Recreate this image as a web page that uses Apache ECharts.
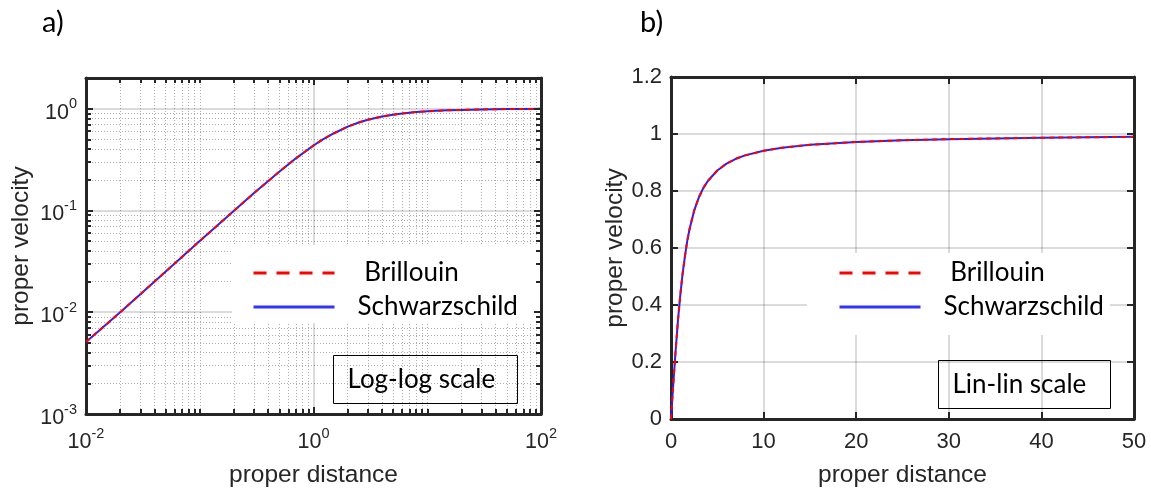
<!DOCTYPE html>
<html>
<head>
<meta charset="utf-8">
<script src="https://cdn.jsdelivr.net/npm/echarts@6/dist/echarts.min.js"></script>
<style>
html,body{margin:0;padding:0;background:#fff;}
#chart{width:1151px;height:493px;}
</style>
</head>
<body>
<div id="chart"></div>
<script>
// ---- data ----
const seriesNames = ['Brillouin', 'Schwarzschild'];

// panel a) log-log
const logDistance = [0.01, 0.02, 0.05, 0.1, 0.2, 0.3, 0.5, 0.7, 1, 1.2, 1.5, 2, 2.5, 3, 4, 5, 6, 7, 8, 10, 12, 15, 20, 30, 50, 70, 100];
const logVelocity = [0.0051, 0.01, 0.025, 0.05, 0.0995, 0.148, 0.24, 0.325, 0.434, 0.497, 0.57, 0.666, 0.731, 0.777, 0.836, 0.872, 0.896, 0.913, 0.925, 0.941, 0.952, 0.962, 0.972, 0.982, 0.990, 0.993, 0.995];

// panel b) lin-lin
const linDistance = [0, 0.1, 0.25, 0.5, 0.75, 1, 1.25, 1.5, 1.75, 2, 2.5, 3, 3.5, 4, 5, 6, 7, 8, 10, 12, 15, 20, 25, 30, 40, 50];
const linVelocity = [0, 0.05, 0.125, 0.24, 0.345, 0.434, 0.509, 0.57, 0.624, 0.666, 0.731, 0.777, 0.811, 0.836, 0.872, 0.896, 0.913, 0.925, 0.941, 0.952, 0.962, 0.972, 0.978, 0.982, 0.987, 0.990];

// log-axis minor grid / tick positions
const logXMinor = [0.02,0.03,0.04,0.05,0.06,0.07,0.08,0.09,0.1,0.2,0.3,0.4,0.5,0.6,0.7,0.8,0.9,2,3,4,5,6,7,8,9,10,20,30,40,50,60,70,80,90];
const logYMinor = [0.002,0.003,0.004,0.005,0.006,0.007,0.008,0.009,0.02,0.03,0.04,0.05,0.06,0.07,0.08,0.09,0.2,0.3,0.4,0.5,0.6,0.7,0.8,0.9];

const panelLabels = ['a)', 'b)'];
const noteLabels = ['Log-log scale', 'Lin-lin scale'];
const axisTitles = {x: 'proper distance', y: 'proper velocity'};

// ---- styling ----
const AX = '#262626';
const numFont = 'Liberation Sans';
const txtFont = 'Lato';
const gridGray = 'rgba(0,0,0,0.14)';
const minorGrid = {show: true, lineStyle: {color: 'rgba(0,0,0,0.32)', width: 1, type: [1, 2]}};

function zip(a, b) { return a.map((v, i) => [v, b[i]]); }

function powLabel(v) {
  const l = Math.log10(v);
  const e = Math.round(l);
  if (Math.abs(l - e) > 1e-6) return '';
  return '10{s|' + e + '}';
}
const powRich = {s: {fontSize: 14.5, lineHeight: 14, verticalAlign: 'top', fontFamily: numFont, color: AX}};

const axisLineStyle = {show: true, onZero: false, lineStyle: {color: AX, width: 3}};
const noLine = {show: false, onZero: false};
const titleStyle = {fontFamily: numFont, fontSize: 24.5, color: AX};

function logAxis(opts) {
  return Object.assign({
    type: 'log', logBase: 10, gridIndex: 0,
    axisLine: axisLineStyle,
    axisTick: {show: true, inside: true, length: 7, lineStyle: {color: AX, width: 2}},
    axisLabel: {show: false},
    splitLine: {show: false},
    minorTick: {show: false},
    z: 1
  }, opts);
}
function minorTick(vals) { return {show: true, inside: true, length: 5, customValues: vals, lineStyle: {color: AX, width: 2}}; }

const xA = [
  logAxis({position: 'bottom', min: 0.01, max: 100, interval: 2, z: 2,
    axisLabel: {show: true, formatter: powLabel, rich: powRich, fontFamily: numFont, fontSize: 21.5, color: AX, lineHeight: 32, margin: 12},
    splitLine: {show: true, lineStyle: {color: gridGray, width: 2}},
    name: axisTitles.x, nameLocation: 'middle', nameGap: 49, nameTextStyle: titleStyle}),
  logAxis({position: 'bottom', min: 0.01, max: 100, axisLine: noLine,
    axisTick: minorTick(logXMinor), splitLine: minorGrid}),
  logAxis({position: 'top', min: 0.01, max: 100, interval: 2, z: 10}),
  logAxis({position: 'top', min: 0.01, max: 100, axisLine: noLine, z: 10,
    axisTick: minorTick(logXMinor)}),
  // panel b
  {type: 'value', gridIndex: 1, position: 'bottom', min: 0, max: 50, interval: 10,
    axisLine: axisLineStyle,
    axisTick: {show: true, inside: true, length: 7, lineStyle: {color: AX, width: 2}},
    axisLabel: {fontFamily: numFont, fontSize: 22, color: AX, margin: 12},
    splitLine: {show: true, lineStyle: {color: gridGray, width: 2}},
    name: axisTitles.x, nameLocation: 'middle', nameGap: 44, nameTextStyle: titleStyle},
  {type: 'value', gridIndex: 1, position: 'top', min: 0, max: 50, interval: 10, z: 10,
    axisLine: axisLineStyle,
    axisTick: {show: true, inside: true, length: 7, lineStyle: {color: AX, width: 2}},
    axisLabel: {show: false}, splitLine: {show: false}}
];

const yA = [
  logAxis({position: 'left', min: 0.001, max: 2, z: 2,
    axisLabel: {show: true, formatter: powLabel, rich: powRich, fontFamily: numFont, fontSize: 21.5, color: AX, lineHeight: 32, margin: 9, showMaxLabel: false, padding: [8, 0, 0, 0]},
    splitLine: {show: true, lineStyle: {color: gridGray, width: 2}},
    name: axisTitles.y, nameLocation: 'middle', nameGap: 52, nameRotate: 90, nameTextStyle: titleStyle}),
  logAxis({position: 'left', min: 0.001, max: 2, axisLine: noLine,
    axisTick: minorTick(logYMinor), splitLine: minorGrid}),
  logAxis({position: 'right', min: 0.001, max: 2, z: 10}),
  logAxis({position: 'right', min: 0.001, max: 2, axisLine: noLine, z: 10,
    axisTick: minorTick(logYMinor)}),
  // panel b
  {type: 'value', gridIndex: 1, position: 'left', min: 0, max: 1.2, interval: 0.2,
    axisLine: axisLineStyle,
    axisTick: {show: true, inside: true, length: 7, lineStyle: {color: AX, width: 2}},
    axisLabel: {fontFamily: numFont, fontSize: 22, color: AX, margin: 9},
    splitLine: {show: true, lineStyle: {color: gridGray, width: 2}},
    name: axisTitles.y, nameLocation: 'middle', nameGap: 42, nameRotate: 90, nameTextStyle: titleStyle},
  {type: 'value', gridIndex: 1, position: 'right', min: 0, max: 1.2, interval: 0.2, z: 10,
    axisLine: axisLineStyle,
    axisTick: {show: true, inside: true, length: 7, lineStyle: {color: AX, width: 2}},
    axisLabel: {show: false}, splitLine: {show: false}}
];

function curveSeries(name, data, xi, yi) {
  const red = name === 'Brillouin';
  return {
    type: 'line', name: name, data: data, xAxisIndex: xi, yAxisIndex: yi,
    showSymbol: false, symbol: 'none', smooth: false,
    z: red ? 3 : 2,
    lineStyle: red ? {color: '#ff0000', width: 2, type: [5, 4]} : {color: '#2222ff', width: 2},
    itemStyle: {color: red ? '#ff0000' : '#2222ff'},
    emphasis: {disabled: true}
  };
}

const logData = zip(logDistance, logVelocity);
const linData = zip(linDistance, linVelocity);

const series = [
  curveSeries(seriesNames[1], logData, 0, 0),
  curveSeries(seriesNames[0], logData, 0, 0),
  curveSeries(seriesNames[1], linData, 4, 4),
  curveSeries(seriesNames[0], linData, 4, 4)
];

const legendData = [
  {name: seriesNames[0], lineStyle: {width: 3, type: [13, 10], color: '#ff0000'}, itemStyle: {opacity: 0}},
  {name: seriesNames[1], lineStyle: {width: 3, color: '#3333ff'}, itemStyle: {opacity: 0}}
];
function legendCfg(left, top, padding) {
  return {
    left: left, top: top, orient: 'vertical', padding: padding,
    backgroundColor: '#ffffff', borderWidth: 0, z: 5,
    itemWidth: 81, itemHeight: 14, itemGap: 8, selectedMode: false,
    data: legendData,
    itemStyle: {opacity: 0},
    formatter: n => n === 'Brillouin' ? ' ' + n : n,
    textStyle: {fontFamily: txtFont, fontSize: 26, lineHeight: 26, color: '#000', padding: [0, 0, 0, 18]}
  };
}

function noteBox(x, y, w, h, text) {
  return {type: 'group', left: x, top: y, z: 20, children: [
    {type: 'rect', shape: {x: 0, y: 0, width: w, height: h}, style: {fill: '#fff', stroke: '#000', lineWidth: 1}},
    {type: 'text', x: 14, y: h / 2, style: {text: text, font: '26px Lato', fill: '#000', verticalAlign: 'middle'}}
  ]};
}

const option = {
  animation: false,
  backgroundColor: '#ffffff',
  title: [
    {text: panelLabels[0], left: 37, top: 3, textStyle: {fontFamily: txtFont, fontSize: 29, fontWeight: 'normal', color: '#000'}},
    {text: panelLabels[1], left: 635, top: 3, textStyle: {fontFamily: txtFont, fontSize: 29, fontWeight: 'normal', color: '#000'}}
  ],
  grid: [
    {left: 86, top: 78, width: 455, height: 340, containLabel: false},
    {left: 671, top: 77, width: 463, height: 346, containLabel: false}
  ],
  xAxis: xA,
  yAxis: yA,
  legend: [legendCfg(232, 245, [15, 22, 3, 20]), legendCfg(807, 253, [7, 6, 15, 31])],
  series: series,
  graphic: [noteBox(333, 355, 184, 48, noteLabels[0]), noteBox(938, 360, 172, 48, noteLabels[1])]
};

const chart = echarts.init(document.getElementById('chart'), null, {renderer: 'canvas'});
chart.setOption(option);
</script>
</body>
</html>
